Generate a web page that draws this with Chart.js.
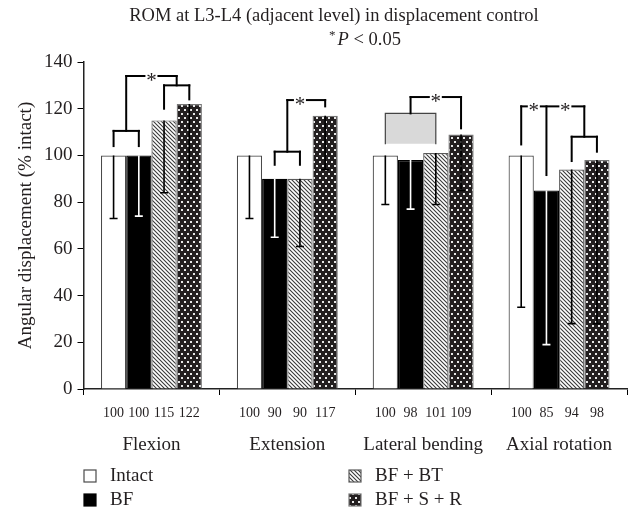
<!DOCTYPE html>
<html>
<head>
<meta charset="utf-8">
<script src="https://cdn.jsdelivr.net/npm/chart.js@4.4.0/dist/chart.umd.min.js"></script>
<style>
    html, body { margin: 0; padding: 0; background: #fff; }
</style>
</head>
<body>
<canvas id="chart" width="635" height="516"></canvas>
<script>
const categories = ['Flexion', 'Extension', 'Lateral bending', 'Axial rotation'];
const seriesNames = ['Intact', 'BF', 'BF + BT', 'BF + S + R'];
const intact = [100, 100, 100, 100];
const bf = [100, 90, 98, 85];
const bfBt = [115, 90, 101, 94];
const bfSR = [122, 117, 109, 98];
// lower error bars (SD)
const intactSd = [27, 27, 21, 65];
const bfSd = [26, 25, 21, 66];
const bfBtSd = [31, 29, 22, 66];
const bfSRSd = [34, 23, 24, 70];
const yTicks = [0, 20, 40, 60, 80, 100, 120, 140];

// significance brackets: bar index in the group (fractional = between bars), heights in % intact
const brackets = [
    { cat: 0, xs: [0, 1], top: 110.5, ends: [104, 104] },
    { cat: 0, xs: [2, 3], top: 130, ends: [120, 124] },
    { cat: 0, xs: [0.5, 2.5], top: 134, ends: [110.5, 130], stars: [1.5] },
    { cat: 1, xs: [1, 2], top: 101.6, ends: [96, 96] },
    { cat: 1, xs: [1.5, 3], top: 123.7, ends: [101.6, 121], stars: [2] },
    { cat: 2, xs: [0, 2], top: 118, bottom: 105, box: true },
    { cat: 2, xs: [1, 3], top: 125, ends: [118, 111.6], stars: [2] },
    { cat: 3, xs: [2, 3], top: 108, ends: [97.6, 101.6] },
    { cat: 3, xs: [0, 1, 2.5], top: 121, ends: [104.7, 91.6, 108], stars: [0.5, 1.75] }
];

const INK = '#231f20';
const SERIF = '"Liberation Serif", "DejaVu Serif", serif';

function hatchPattern() {
    const c = document.createElement('canvas');
    c.width = 4; c.height = 4;
    const g = c.getContext('2d');
    g.fillStyle = '#fff';
    g.fillRect(0, 0, 4, 4);
    g.strokeStyle = '#3a3a3a';
    g.lineWidth = 1.1;
    g.beginPath();
    g.moveTo(-1, -1); g.lineTo(5, 5);
    g.moveTo(-1, 3); g.lineTo(1, 5);
    g.moveTo(3, -1); g.lineTo(5, 1);
    g.stroke();
    return g.createPattern(c, 'repeat');
}

function dotPattern() {
    const c = document.createElement('canvas');
    c.width = 6; c.height = 8;
    const g = c.getContext('2d');
    g.fillStyle = INK;
    g.fillRect(0, 0, 6, 8);
    g.fillStyle = '#e8e8e8';
    g.fillRect(1, 1, 2, 2);
    g.fillRect(4, 5, 2, 2);
    return g.createPattern(c, 'repeat');
}

const hatch = hatchPattern();
const dots = dotPattern();

function makeSet(label, values, sd, fill, border, errColor) {
    return {
        label: label,
        data: values,
        sd: sd,
        errColor: errColor,
        backgroundColor: fill,
        borderColor: border,
        borderWidth: 1.2,
        categoryPercentage: 0.743,
        barPercentage: 1.0
    };
}

// error bars, brackets, label rows, legend and titles
const extras = {
    id: 'extras',
    afterDatasetsDraw(chart) {
        const ctx = chart.ctx;
        const y = chart.scales.y;
        ctx.save();
        chart.data.datasets.forEach((ds, d) => {
            chart.getDatasetMeta(d).data.forEach((bar, i) => {
                const low = y.getPixelForValue(ds.data[i] - ds.sd[i]);
                ctx.strokeStyle = ds.errColor;
                ctx.lineWidth = 1.6;
                ctx.beginPath();
                ctx.moveTo(bar.x, bar.y);
                ctx.lineTo(bar.x, low);
                ctx.moveTo(bar.x - 4, low);
                ctx.lineTo(bar.x + 4, low);
                ctx.stroke();
            });
        });
        ctx.restore();
    },
    afterDraw(chart) {
        const ctx = chart.ctx;
        const x = chart.scales.x;
        const y = chart.scales.y;
        const area = chart.chartArea;
        const barX = (cat, idx) => {
            const i0 = Math.floor(idx), i1 = Math.ceil(idx);
            const a = chart.getDatasetMeta(i0).data[cat].x;
            const b = chart.getDatasetMeta(i1).data[cat].x;
            return a + (b - a) * (idx - i0);
        };
        const line = (x1, y1, x2, y2) => {
            ctx.beginPath();
            ctx.moveTo(x1, y1);
            ctx.lineTo(x2, y2);
            ctx.stroke();
        };

        ctx.save();
        ctx.strokeStyle = '#000';
        ctx.lineWidth = 2;
        ctx.lineCap = 'square';
        brackets.forEach(br => {
            const xs = br.xs.map(i => barX(br.cat, i));
            const yt = y.getPixelForValue(br.top);
            if (br.box) {
                const yb = y.getPixelForValue(br.bottom);
                ctx.fillStyle = '#d9d9d9';
                ctx.fillRect(xs[0], yt, xs[1] - xs[0], yb - yt);
                ctx.save();
                ctx.strokeStyle = '#444';
                ctx.lineWidth = 1.2;
                ctx.beginPath();
                ctx.moveTo(xs[0], yb);
                ctx.lineTo(xs[0], yt);
                ctx.lineTo(xs[1], yt);
                ctx.lineTo(xs[1], yb);
                ctx.stroke();
                ctx.restore();
                return;
            }
            xs.forEach((px, k) => line(px, yt, px, y.getPixelForValue(br.ends[k])));
            let start = xs[0];
            (br.stars || []).forEach(s => {
                const sx = barX(br.cat, s);
                line(start, yt, sx - 7, yt);
                ctx.fillStyle = INK;
                ctx.font = '21px ' + SERIF;
                ctx.textAlign = 'center';
                ctx.textBaseline = 'alphabetic';
                ctx.fillText('*', sx, yt + 11);
                start = sx + 7;
            });
            line(start, yt, xs[xs.length - 1], yt);
        });
        ctx.restore();

        ctx.save();
        ctx.fillStyle = INK;
        ctx.textAlign = 'center';
        ctx.textBaseline = 'middle';

        // value row under each bar
        ctx.font = '14px ' + SERIF;
        chart.data.datasets.forEach((ds, d) => {
            chart.getDatasetMeta(d).data.forEach((bar, i) => {
                ctx.fillText(String(ds.data[i]), bar.x, area.bottom + 24);
            });
        });

        // category names
        ctx.font = '19px ' + SERIF;
        categories.forEach((c, i) => {
            ctx.fillText(c, x.getPixelForValue(i), area.bottom + 56);
        });

        // y axis title
        ctx.save();
        ctx.font = '19px ' + SERIF;
        ctx.translate(26, (area.top + area.bottom) / 2);
        ctx.rotate(-Math.PI / 2);
        ctx.fillText('Angular displacement (% intact)', 0, 0);
        ctx.restore();

        // title
        ctx.font = '18.5px ' + SERIF;
        ctx.fillText('ROM at L3-L4 (adjacent level) in displacement control', 334, 16);
        ctx.textAlign = 'left';
        const p1 = '*', p2 = 'P', p3 = ' < 0.05';
        ctx.font = '13px ' + SERIF;
        const w1 = ctx.measureText(p1).width;
        ctx.font = 'italic 18.5px ' + SERIF;
        const w2 = ctx.measureText(p2).width;
        ctx.font = '18.5px ' + SERIF;
        const w3 = ctx.measureText(p3).width;
        let tx = 365 - (w1 + 2 + w2 + w3) / 2;
        ctx.font = '13px ' + SERIF;
        ctx.fillText(p1, tx, 36);
        tx += w1 + 2;
        ctx.font = 'italic 18.5px ' + SERIF;
        ctx.fillText(p2, tx, 40);
        tx += w2;
        ctx.font = '18.5px ' + SERIF;
        ctx.fillText(p3, tx, 40);

        // legend, two columns
        const cols = [84, 349];
        const rows = [476, 500];
        const order = [[0, 0, 0], [1, 0, 1], [2, 1, 0], [3, 1, 1]];
        order.forEach(([d, c, r]) => {
            const ds = chart.data.datasets[d];
            const bx = cols[c], by = rows[r];
            ctx.fillStyle = ds.backgroundColor;
            ctx.fillRect(bx, by - 6, 12, 12);
            ctx.strokeStyle = ds.borderColor;
            ctx.lineWidth = 1.2;
            ctx.strokeRect(bx, by - 6, 12, 12);
            ctx.fillStyle = INK;
            ctx.font = '19px ' + SERIF;
            ctx.fillText(ds.label, bx + 26, by);
        });
        ctx.restore();
    }
};

const chart = new Chart(document.getElementById('chart'), {
    type: 'bar',
    data: {
        labels: categories,
        datasets: [
            makeSet(seriesNames[0], intact, intactSd, '#ffffff', '#4a4a4a', '#000'),
            makeSet(seriesNames[1], bf, bfSd, '#000000', '#000000', '#fff'),
            makeSet(seriesNames[2], bfBt, bfBtSd, hatch, '#5a5a5a', '#000'),
            makeSet(seriesNames[3], bfSR, bfSRSd, dots, '#777777', '#000')
        ]
    },
    options: {
        responsive: false,
        animation: false,
        devicePixelRatio: 1,
        layout: { padding: { top: 62, left: 0, right: 8, bottom: 0 } },
        plugins: {
            legend: { display: false },
            title: { display: false },
            tooltip: { enabled: false }
        },
        scales: {
            x: {
                grid: {
                    offset: true,
                    drawOnChartArea: false,
                    tickLength: 6,
                    color: ctx => (ctx.index === categories.length ? 'transparent' : '#000')
                },
                border: { color: '#222', width: 1.5 },
                ticks: { display: false },
                afterFit: s => { s.height = 127; }
            },
            y: {
                min: 0,
                max: 140,
                afterBuildTicks: s => { s.ticks = yTicks.map(v => ({ value: v })); },
                grid: { drawOnChartArea: false, color: '#000', tickLength: 6 },
                border: { color: '#222', width: 1.5 },
                ticks: { color: INK, font: { family: SERIF, size: 19 }, padding: 5 },
                afterFit: s => { s.width = 83.5; }
            }
        }
    },
    plugins: [extras]
});
</script>
</body>
</html>
